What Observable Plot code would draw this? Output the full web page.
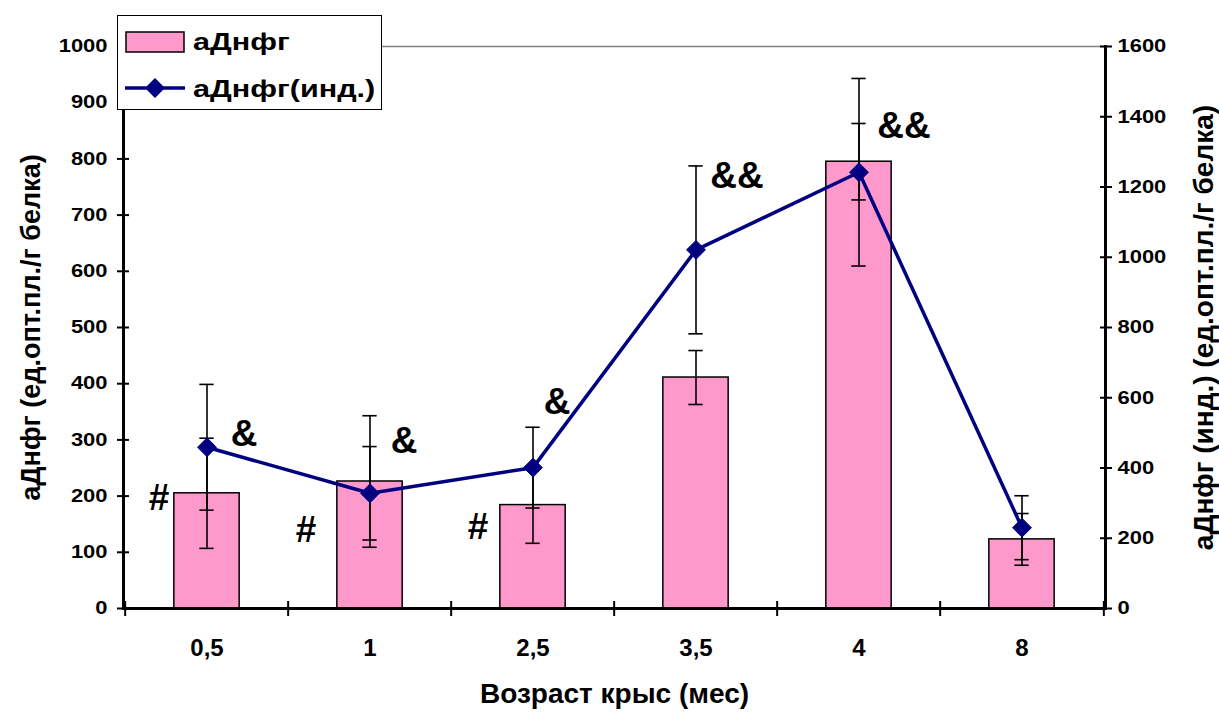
<!DOCTYPE html>
<html><head><meta charset="utf-8">
<script src="https://cdn.jsdelivr.net/npm/d3@7"></script>
<script src="https://cdn.jsdelivr.net/npm/@observablehq/plot@0.6"></script>
<style>
body{margin:0;background:#fff;}
#wrap{position:relative;width:1219px;height:713px;}
#legend{position:absolute;left:117px;top:15px;}
</style></head><body><div id="wrap"></div>
<script>
// ---- data ----
const ages = ["0,5", "1", "2,5", "3,5", "4", "8"];
const activity = [205, 226, 184, 411, 795, 123];          // left axis
const activityErr = [98, 117, 68, 48, 68, 46];
const activityInd = [459, 328, 401, 1021, 1242, 230];    // right axis
const activityIndErr = [179, 133, 115, 239, 267, 91];
const leftTicks = [0, 100, 200, 300, 400, 500, 600, 700, 800, 900, 1000];
const rightTicks = [0, 200, 400, 600, 800, 1000, 1200, 1400, 1600];
const seriesNames = ["аДнфг", "аДнфг(инд.)"];
const xTitle = "Возраст крыс (мес)";
const yLeftTitle = "аДнфг (ед.опт.пл./г белка)";
const yRightTitle = "аДнфг (инд.) (ед.опт.пл./г белка)";
const annoAge = ["0,5", "1", "2,5", "0,5", "1", "2,5", "3,5", "4"];
const annoText = ["#", "#", "#", "&", "&", "&", "&&", "&&"];
const annoY = [197, 139, 144, 311, 297, 367, 769, 858];
const annoDx = [-48, -64, -55, 37, 34, 24, 41, 45];

// ---- layout ----
const W = 1219, H = 713, ML = 123, MR = 114, MT = 46, MB = 105;
const step = (W - ML - MR) / ages.length;
const k = 1000 / 1600; // right -> left units
const PINK = "#ff99cc", NAVY = "#000080";
const FONT = '"Liberation Sans", Arial, Helvetica, sans-serif';

const data = ages.map((age, i) => ({
  age, v: activity[i], e: activityErr[i], ind: activityInd[i] * k, ie: activityIndErr[i] * k
}));
const annos = annoAge.map((age, i) => ({age, t: annoText[i], y: annoY[i], dx: annoDx[i]}));

const barInset = (step - 66) / 2;
const capInset = (step - 15) / 2;

const chart = Plot.plot({
  width: W, height: H,
  marginLeft: ML, marginRight: MR, marginTop: MT, marginBottom: MB,
  style: {fontFamily: FONT, fontWeight: "bold", color: "#000", background: "#fff", overflow: "visible"},
  x: {type: "band", domain: ages, padding: 0, axis: null},
  y: {domain: [0, 1000], axis: null},
  marks: [
    Plot.frame({anchor: "top", stroke: "#808080", strokeWidth: 1.5}),
    Plot.barY(data, {x: "age", y: "v", fill: PINK, stroke: "#000", strokeWidth: 1.5, insetLeft: barInset, insetRight: barInset}),
    // bar error bars
    Plot.ruleX(data, {x: "age", y1: d => d.v - d.e, y2: d => d.v + d.e, stroke: "#000", strokeWidth: 1.6}),
    Plot.tickY(data, {x: "age", y: d => d.v + d.e, insetLeft: capInset, insetRight: capInset, stroke: "#000", strokeWidth: 1.6}),
    Plot.tickY(data, {x: "age", y: d => d.v - d.e, insetLeft: capInset, insetRight: capInset, stroke: "#000", strokeWidth: 1.6}),
    // index error bars
    Plot.ruleX(data, {x: "age", y1: d => d.ind - d.ie, y2: d => d.ind + d.ie, stroke: "#000", strokeWidth: 1.6}),
    Plot.tickY(data, {x: "age", y: d => d.ind + d.ie, insetLeft: capInset, insetRight: capInset, stroke: "#000", strokeWidth: 1.6}),
    Plot.tickY(data, {x: "age", y: d => d.ind - d.ie, insetLeft: capInset, insetRight: capInset, stroke: "#000", strokeWidth: 1.6}),
    // line
    Plot.line(data, {x: "age", y: "ind", stroke: NAVY, strokeWidth: 3.5}),
    Plot.dot(data, {x: "age", y: "ind", symbol: "diamond2", r: 8.5, fill: NAVY, stroke: NAVY, strokeWidth: 1}),
    // axis lines
    Plot.frame({anchor: "left", stroke: "#000", strokeWidth: 3}),
    Plot.frame({anchor: "right", stroke: "#000", strokeWidth: 3}),
    Plot.frame({anchor: "bottom", stroke: "#000", strokeWidth: 3}),
    // x axis: labels + boundary ticks
    Plot.axisX({tickSize: 0, tickPadding: 30, fontSize: 24, label: null}),
    Plot.axisX({tickSize: 15, dy: -7, dx: -step / 2, strokeWidth: 2, tickFormat: () => "", label: null}),
    Plot.axisX({ticks: [ages[ages.length - 1]], tickSize: 15, dy: -7, dx: step / 2, strokeWidth: 2, tickFormat: () => "", label: null}),
    // left axis
    Plot.axisY({anchor: "left", ticks: leftTicks, tickSize: 12, dx: 6, strokeWidth: 2, tickFormat: () => "", label: null}),
    Plot.axisY({anchor: "left", ticks: leftTicks, tickSize: 0, tickPadding: 16, fontSize: 18, tickFormat: d => String(d), label: null}),
    // right axis
    Plot.axisY({anchor: "right", ticks: rightTicks.map(v => v * k), tickSize: 12, dx: -6, strokeWidth: 2, tickFormat: () => "", label: null}),
    Plot.axisY({anchor: "right", ticks: rightTicks.map(v => v * k), tickSize: 0, tickPadding: 12, fontSize: 18, tickFormat: d => String(Math.round(d / k)), label: null}),
    // annotations
    ...annos.map(a => Plot.text([a], {x: "age", y: "y", text: "t", dx: a.dx, fontSize: 37, fontWeight: "bold", fill: "#000"})),
    // titles
    Plot.text([yLeftTitle], {frameAnchor: "left", textAnchor: "middle", text: d => d, rotate: -90, dx: -92, fontSize: 27, fontWeight: "bold"}),
    Plot.text([yRightTitle], {frameAnchor: "right", textAnchor: "middle", text: d => d, rotate: -90, dx: 99, fontSize: 28, fontWeight: "bold"}),
    Plot.text([xTitle], {frameAnchor: "bottom", text: d => d, dy: 94, fontSize: 28, fontWeight: "bold"})
  ]
});
// the reference tick labels are drawn horizontally widened
d3.select(chart).selectAll('g[aria-label="y-axis tick label"] text').each(function() {
  const t = d3.select(this);
  t.attr("transform", (t.attr("transform") || "") + " scale(1.22,1)");
});
document.getElementById("wrap").appendChild(chart);

// legend overlay
const lg = d3.select("#wrap").append("svg").attr("id", "legend")
  .attr("width", 266).attr("height", 96)
  .style("font-family", FONT).style("font-weight", "bold");
lg.append("rect").attr("x", 0.5).attr("y", 0.5).attr("width", 264).attr("height", 94)
  .attr("fill", "#fff").attr("stroke", "#000").attr("stroke-width", 1);
lg.append("rect").attr("x", 9).attr("y", 17).attr("width", 58).attr("height", 20)
  .attr("fill", PINK).attr("stroke", "#000").attr("stroke-width", 1.5);
lg.append("text").attr("transform", "translate(76,35) scale(1.33,1)").attr("font-size", 23).text(seriesNames[0]);
lg.append("line").attr("x1", 8).attr("x2", 68).attr("y1", 73).attr("y2", 73)
  .attr("stroke", NAVY).attr("stroke-width", 3.5);
lg.append("path").attr("d", "M38,63L48,73L38,83L28,73Z").attr("fill", NAVY);
lg.append("text").attr("transform", "translate(76,82) scale(1.33,1)").attr("font-size", 23).text(seriesNames[1]);
</script>
</body></html>
